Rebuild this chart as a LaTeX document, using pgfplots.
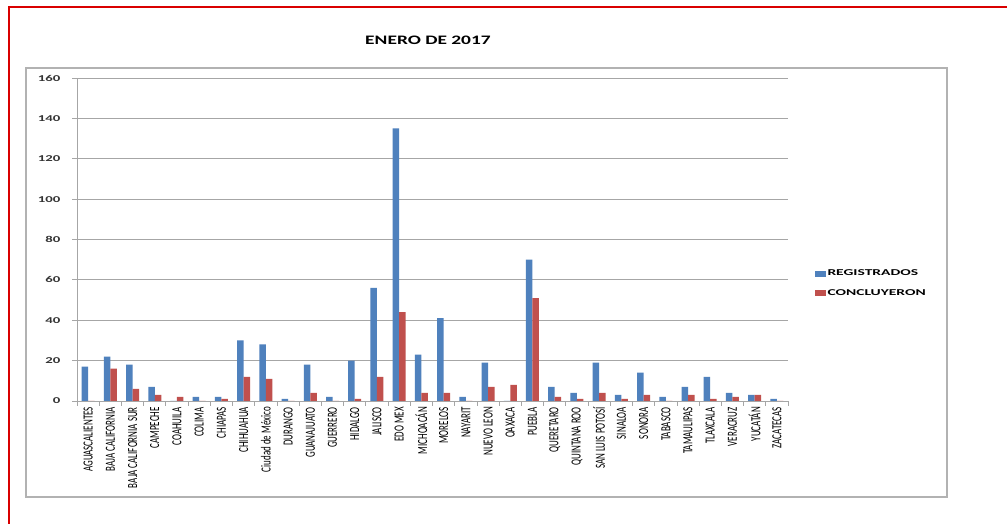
\documentclass[border=0pt]{standalone}
\usepackage{pgfplots}
\pgfplotsset{compat=1.18}
\usepackage{pgfplotstable}
\usepackage{fontspec}
\setmainfont{Carlito}
\definecolor{regblue}{HTML}{4F81BD}
\definecolor{conred}{HTML}{C0504D}
\definecolor{gridgray}{HTML}{A6A6A6}
\newcommand\lab[1]{\scalebox{1}[1.55]{#1}}
\pgfplotstableread{
idx reg con
0 17 0
1 22 16
2 18 6
3 7 3
4 0 2
5 2 0
6 2 1
7 30 12
8 28 11
9 1 0
10 18 4
11 2 0
12 20 1
13 56 12
14 135 44
15 23 4
16 41 4
17 2 0
18 19 7
19 0 8
20 70 51
21 7 2
22 4 1
23 19 4
24 3 1
25 14 3
26 2 0
27 7 3
28 12 1
29 4 2
30 3 3
31 1 0
}\datatable
\begin{document}
\begin{tikzpicture}[x=1bp,y=1bp]
\useasboundingbox (0,0) rectangle (1007,524);
\fill[white] (0,0) rectangle (1007,524);
% outer red frame
\draw[red!85!black, line width=2bp] (9,0) -- (9,517) -- (1007,517);
% chart area gray box
\draw[gray!60, line width=1.5bp] (26,27) rectangle (947,456);
% title
\node[font=\bfseries\fontsize{13}{13}\selectfont] at (428,484) {\scalebox{1.5}[1]{ENERO DE 2017}};
\begin{axis}[
  at={(77bp,123bp)}, anchor=south west,
  width=711bp, height=323bp, scale only axis,
  ybar=0bp, bar width=6.5bp,
  xmin=-0.5, xmax=31.5, ymin=0, ymax=160,
  ytick={0,20,...,160},
  yticklabel={\scalebox{1.65}[1]{\pgfmathprintnumber{\tick}}},
  xtick={0,...,31},
  xticklabels={\lab{AGUASCALIENTES},\lab{BAJA CALIFORNIA},\lab{BAJA CALIFORNIA SUR},\lab{CAMPECHE},\lab{COAHUILA},\lab{COLIMA},\lab{CHIAPAS},\lab{CHIHUAHUA},\lab{Ciudad de México},\lab{DURANGO},\lab{GUANAJUATO},\lab{GUERRERO},\lab{HIDALGO},\lab{JALISCO},\lab{EDO MEX},\lab{MICHOACÁN},\lab{MORELOS},\lab{NAYARIT},\lab{NUEVO LEON},\lab{OAXACA},\lab{PUEBLA},\lab{QUERETARO},\lab{QUINTANA ROO},\lab{SAN LUIS POTOSÍ},\lab{SINALOA},\lab{SONORA},\lab{TABASCO},\lab{TAMAULIPAS},\lab{TLAXCALA},\lab{VERACRUZ},\lab{YUCATÁN},\lab{ZACATECAS}},
  minor xtick={-0.5,0.5,...,31.5},
  x tick label style={rotate=90, anchor=east, font=\fontsize{9}{9}\selectfont, inner sep=1bp, text=black},
  y tick label style={font=\bfseries\fontsize{9}{9}\selectfont, text=black!80, xshift=-8bp},
  /pgf/number format/assume math mode=true,
  axis x line=bottom, axis y line=left,
  axis line style={-, draw=gridgray, line width=0.8bp},
  ymajorgrids, major grid style={draw=gridgray, line width=0.8bp},
  tick align=outside,
  major tick length=5bp, minor tick length=5bp,
  major x tick style={draw=none},
  minor x tick style={draw=gridgray, line width=0.8bp},
  major y tick style={draw=gridgray, line width=0.8bp},
  legend style={at={(1.037,0.412)}, anchor=north west, draw=none, fill=none,
    font=\bfseries\fontsize{9}{9}\selectfont, row sep=8bp, inner sep=0pt},
  legend cell align=left,
  legend image code/.code={\path[#1, draw=none] (0bp,-3bp) rectangle (11bp,3bp);},
]
\addplot[fill=regblue, draw=none] table[x=idx, y=reg] {\datatable};
\addplot[fill=conred, draw=none] table[x=idx, y=con] {\datatable};
\legend{\scalebox{1.73}[1]{REGISTRADOS},\scalebox{1.73}[1]{CONCLUYERON}}
\end{axis}
\end{tikzpicture}
\end{document}
